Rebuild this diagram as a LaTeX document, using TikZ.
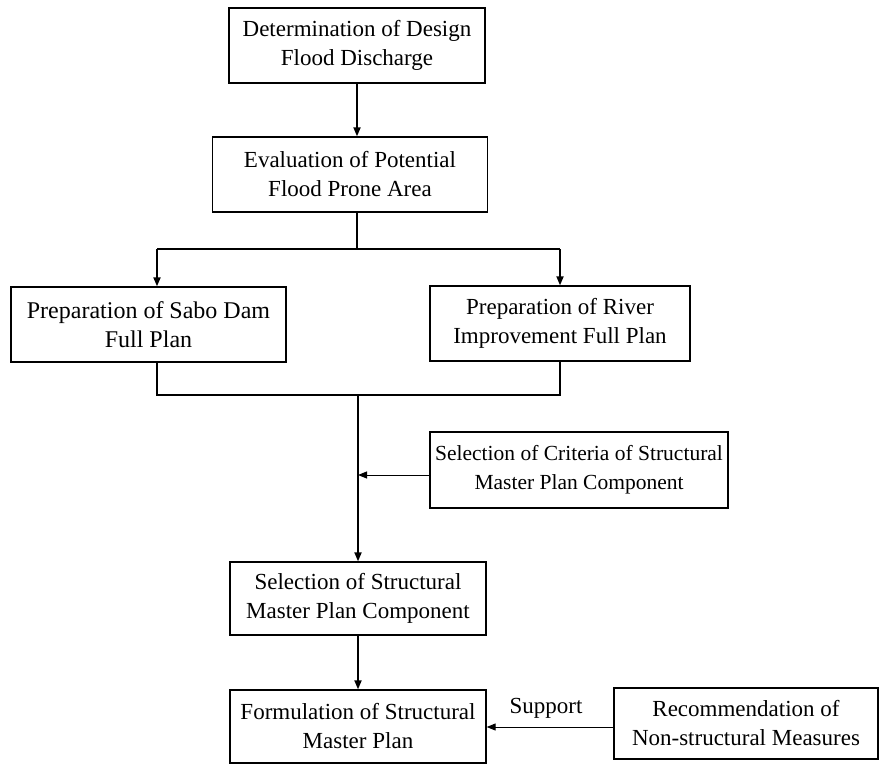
\documentclass[tikz,border=0pt]{standalone}
\usepackage{fontspec}
\setmainfont{Liberation Serif}
\usetikzlibrary{arrows.meta}
\tikzset{
  box/.style={draw, line width=1.3pt, align=center, inner sep=0pt, font=\fontsize{23}{29}\selectfont},
  flow/.style={line width=1.8pt, -{Triangle[length=9pt,width=7pt]}},
  thinflow/.style={line width=1pt, -{Triangle[length=9pt,width=7pt]}},
  plain/.style={line width=1.5pt}
}
\begin{document}
\begin{tikzpicture}[x=1pt,y=-1pt]
\useasboundingbox (0,0) rectangle (881,764);
\node[box, minimum width=256pt, minimum height=75pt] (b1) at (357,45.5) {Determination of Design\\Flood Discharge};
\node[box, minimum width=275pt, minimum height=75pt] (b2) at (350,174.5) {Evaluation of Potential\\Flood Prone Area};
\node[box, minimum width=275pt, minimum height=75pt, font=\fontsize{24}{29}\selectfont] (b3) at (148.5,324.5) {Preparation of Sabo Dam\\Full Plan};
\node[box, minimum width=260pt, minimum height=75pt] (b4) at (560,323.5) {Preparation of River\\Improvement Full Plan};
\node[box, minimum width=298pt, minimum height=76pt, font=\fontsize{21.5}{29}\selectfont] (b6) at (579,470) {Selection of Criteria of Structural\\Master Plan Component};
\node[box, minimum width=256pt, minimum height=73pt] (b5) at (358,598.5) {Selection of Structural\\Master Plan Component};
\node[box, minimum width=256pt, minimum height=73pt] (b7) at (358,726.5) {Formulation of Structural\\Master Plan};
\node[box, minimum width=264pt, minimum height=71pt] (b8) at (746,723.5) {Recommendation of\\Non-structural Measures};
\node[font=\fontsize{23}{29}\selectfont, anchor=center] (sup) at (546,708) {Support};
\coordinate (split) at (357,249);
\coordinate (sl) at (157,249);
\coordinate (sr) at (560,249);
\coordinate (ml) at (157,395);
\coordinate (mr) at (560,395);
\coordinate (mc) at (358,395);
\coordinate (join) at (358,475);
\draw[flow] (b1.south) -- (b1.south |- b2.north);
\draw[plain] (b1.south |- b2.south) -- (split);
\draw[plain] (sl) -- (sr);
\draw[flow] (sl) -- (sl |- b3.north);
\draw[flow] (sr) -- (b4.north);
\draw[plain] (sl |- b3.south) -- (ml) -- (mr) -- (b4.south);
\draw[flow] (mc) -- (b5.north);
\draw[thinflow] (b6.west |- join) -- (join);
\draw[flow] (b5.south) -- (b7.north);
\draw[thinflow] (b8.west |- 0,727) -- (b7.east |- 0,727);
\end{tikzpicture}
\end{document}
